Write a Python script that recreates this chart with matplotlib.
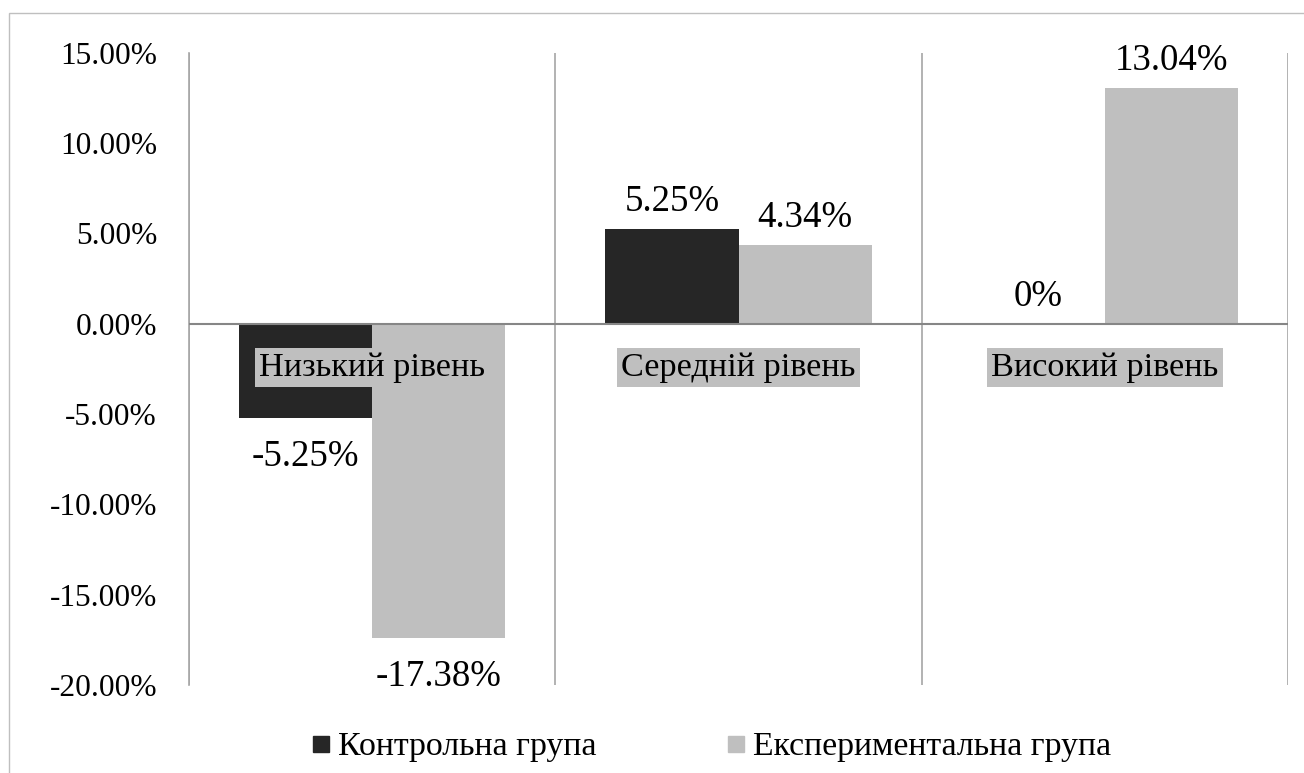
import matplotlib
matplotlib.use("Agg")
import matplotlib.pyplot as plt
from matplotlib.lines import Line2D
from matplotlib.patches import Rectangle
import numpy as np

plt.rcParams['font.family'] = ['Liberation Serif', 'DejaVu Serif']

categories = ["Низький рівень", "Середній рівень", "Високий рівень"]
series_names = ["Контрольна група", "Експериментальна група"]
control = [-5.25, 5.25, 0.0]
experimental = [-17.38, 4.34, 13.04]
control_labels = ["-5.25%", "5.25%", "0%"]
experimental_labels = ["-17.38%", "4.34%", "13.04%"]
yticks = [-20, -15, -10, -5, 0, 5, 10, 15]
ytick_labels = ["-20.00%", "-15.00%", "-10.00%", "-5.00%", "0.00%", "5.00%", "10.00%", "15.00%"]

colors = ["#262626", "#bfbfbf"]
W, H = 1304, 773
fig = plt.figure(figsize=(W / 100, H / 100), dpi=100)
fig.patch.set_facecolor("white")

# outer chart border
fig.add_artist(Rectangle((9 / W, -0.05), 1.2, 1 - 13 / H + 0.05, transform=fig.transFigure,
                         fill=False, edgecolor="#bfbfbf", lw=1.0))

ax = fig.add_axes([189 / W, (H - 685) / H, (1288 - 189) / W, (685 - 52.5) / H])
ax.set_facecolor("white")

n = len(categories)
x = np.arange(n)
bw = 0.3636
ax.bar(x - bw / 2, control, width=bw, color=colors[0], zorder=2)
ax.bar(x + bw / 2, experimental, width=bw, color=colors[1], zorder=2)

ax.set_xlim(-0.5, n - 0.5)
ax.set_ylim(yticks[0], yticks[-1])
ax.set_yticks(yticks)
ax.set_yticklabels(ytick_labels, fontsize=22.6)
ax.tick_params(axis="y", length=0, pad=23)
ax.set_xticks([])

for s in ["top", "bottom", "right"]:
    ax.spines[s].set_visible(False)
ax.spines["left"].set_color("#a6a6a6")
ax.spines["left"].set_linewidth(1.2)

for b in np.arange(n + 1) - 0.5:
    ax.axvline(b, color="#a6a6a6", lw=1.2, zorder=1)
ax.axhline(0, color="#868686", lw=1.5, zorder=3)

def label(xpos, val, txt):
    if val >= 0:
        off = 13
    else:
        off = -34.5
    ax.annotate(txt, (xpos, val), xytext=(0, off), textcoords="offset points",
                ha="center", va="baseline", fontsize=26.6, color="#000000", zorder=5)

for i in range(n):
    label(x[i] - bw / 2, control[i], control_labels[i])
    label(x[i] + bw / 2, experimental[i], experimental_labels[i])

for i, c in enumerate(categories):
    ax.annotate(c, (x[i], 0), xytext=(0, -31.5), textcoords="offset points",
                ha="center", va="center", fontsize=24.7, color="#000000", zorder=6,
                bbox=dict(boxstyle="square,pad=0.12", facecolor="#bfbfbf", edgecolor="none"))

handles = [Line2D([], [], marker="s", linestyle="none", markersize=12,
                  markerfacecolor=colors[k], markeredgecolor=colors[k]) for k in range(2)]
fig.legend(handles, series_names, loc="center", bbox_to_anchor=(711 / W, 1 - 747 / H),
           ncol=2, frameon=False, fontsize=24.4, handlelength=0.6, handletextpad=0.2,
           columnspacing=3.8, borderpad=0)

fig.savefig("out.png", dpi=100, facecolor="white")
